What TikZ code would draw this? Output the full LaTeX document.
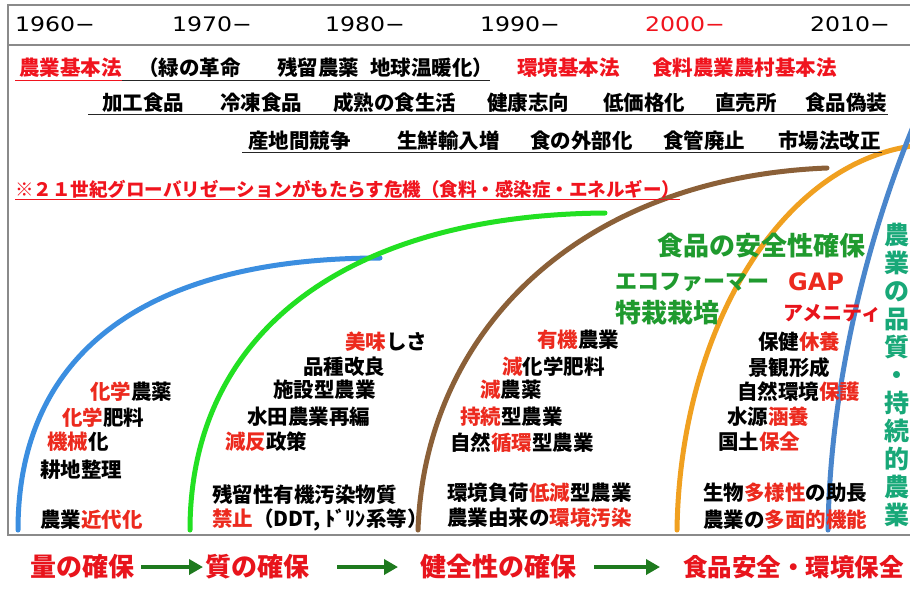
\documentclass[tikz,border=0pt]{standalone}
\usepackage{fontspec}
\newfontfamily\cjk{Noto Sans CJK JP}
\newfontfamily\yrfont[FakeStretch=1.18]{DejaVu Sans}
\newfontfamily\latfont{DejaVu Sans}
\usetikzlibrary{arrows.meta}
\definecolor{tred}{HTML}{EC2A1E}
\definecolor{lawred}{HTML}{F0141E}
\definecolor{bred}{HTML}{E8141C}
\definecolor{lblgreen}{HTML}{1F9A2E}
\definecolor{vteal}{HTML}{18A878}
\definecolor{arrgreen}{HTML}{1E7A1E}
\definecolor{cblue}{HTML}{3B8EE0}
\definecolor{cgreen}{HTML}{22E022}
\definecolor{cbrown}{HTML}{8B6038}
\definecolor{corange}{HTML}{F0A020}
\definecolor{csteel}{HTML}{4A86CC}
\definecolor{framec}{HTML}{8A8A8A}
\newcommand\redt[1]{\textcolor{tred}{#1}}
\tikzset{
  every node/.style={inner sep=0pt, anchor=west},
  yr/.style={font=\yrfont\fontsize{20}{22}\selectfont},
  tx/.style={font=\cjk\bfseries\fontsize{20.5}{24}\selectfont, text=black},
  law/.style={tx, text=lawred},
  warn/.style={font=\cjk\bfseries\fontsize{18.5}{22}\selectfont, text=lawred},
  ul/.style={line width=1pt, draw=black!85},
  ulred/.style={line width=1pt, draw=lawred},
  crv/.style={line width=5pt, line cap=round},
  glbl/.style={font=\cjk\bfseries\fontsize{26}{30}\selectfont, text=lblgreen},
  btm/.style={font=\cjk\bfseries\fontsize{26}{30}\selectfont, text=bred},
  garrow/.style={line width=4.5pt, draw=arrgreen, -{Triangle[length=14pt,width=15pt]}},
}
\begin{document}
\begin{tikzpicture}[x=1pt,y=-1pt]
\useasboundingbox (0,0) rectangle (910,590);
\fill[white] (0,0) rectangle (910,590);
% frame
\draw[framec, line width=1.3pt] (8,5) rectangle (918,535);
\draw[framec, line width=1.3pt] (8,45) -- (918,45);
% years
\node[yr] (y60) at (15,24) {1960−};
\node[yr] (y70) at (172,24) {1970−};
\node[yr] (y80) at (325,24) {1980−};
\node[yr] (y90) at (480,24) {1990−};
\node[yr, text=lawred] (y00) at (645,24) {2000−};
\node[yr] (y10) at (810,24) {2010−};
% curves
\draw[crv, cblue] (18,530) .. controls (18,350) and (150,258) .. (380,258);
\draw[crv, cgreen] (190,530) .. controls (190,330) and (350,215) .. (605,213);
\draw[crv, cbrown] (418,530) .. controls (425,330) and (580,178) .. (827,168);
\draw[crv, corange] (677,530) .. controls (680,330) and (780,165) .. (912,146);
\draw[crv, csteel] (828,530) .. controls (830,380) and (870,230) .. (915,122);
% row 1
\node[law] (r1a) at (19,68) {農業基本法};
\node[tx] (r1b) at (138,68) {（緑の革命};
\node[tx] (r1c) at (277,68) {残留農薬};
\node[tx] (r1d) at (370,68) {地球温暖化）};
\node[law] (r1e) at (517,68) {環境基本法};
\node[law] (r1f) at (652,68) {食料農業農村基本法};
\draw[ulred] (15,80) -- (122,80);
\draw[ul] (122,80) -- (490,80);
% row 2
\node[tx] (r2a) at (102,103) {加工食品};
\node[tx] (r2b) at (220,103) {冷凍食品};
\node[tx] (r2c) at (333,103) {成熟の食生活};
\node[tx] (r2d) at (487,103) {健康志向};
\node[tx] (r2e) at (603,103) {低価格化};
\node[tx] (r2f) at (715,103) {直売所};
\node[tx] (r2g) at (805,103) {食品偽装};
\draw[ul] (88,114) -- (888,114);
% row 3
\node[tx] (r3a) at (248,141) {産地間競争};
\node[tx] (r3b) at (397,141) {生鮮輸入増};
\node[tx] (r3c) at (530,141) {食の外部化};
\node[tx] (r3d) at (663,141) {食管廃止};
\node[tx] (r3e) at (778,141) {市場法改正};
\draw[ul] (242,152) -- (882,152);
% row 4
\node[warn] (r4) at (15,189) {※２１世紀グローバリゼーションがもたらす危機（食料・感染症・エネルギー）};
\draw[ulred] (15,199) -- (r4.east |- 0,199);
% blue region
\node[tx] (a1) at (90,392) {\redt{化学}農薬};
\node[tx] (a2) at (62,418) {\redt{化学}肥料};
\node[tx] (a3) at (47,442) {\redt{機械}化};
\node[tx] (a4) at (40,470) {耕地整理};
\node[tx] (a5) at (40,520) {農業\redt{近代化}};
% green region
\node[tx] (b1) at (345,342) {\redt{美味}しさ};
\node[tx] (b2) at (303,367) {品種改良};
\node[tx] (b3) at (273,390) {施設型農業};
\node[tx] (b4) at (247,417) {水田農業再編};
\node[tx] (b5) at (225,442) {\redt{減反}政策};
\node[tx] (b6) at (212,495) {残留性有機汚染物質};
\node[tx] (b7) at (212,520) {\redt{禁止}（DDT, ﾄﾞﾘﾝ系等）};
% brown region
\node[tx] (c1) at (537,340) {\redt{有機}農業};
\node[tx] (c2) at (502,367) {\redt{減}化学肥料};
\node[tx] (c3) at (480,390) {\redt{減}農薬};
\node[tx] (c4) at (460,417) {\redt{持続}型農業};
\node[tx] (c5) at (450,443) {自然\redt{循環}型農業};
\node[tx] (c6) at (447,493) {環境負荷\redt{低減}型農業};
\node[tx] (c7) at (447,518) {農業由来の\redt{環境汚染}};
% orange region
\node[tx] (d1) at (758,342) {保健\redt{休養}};
\node[tx] (d2) at (748,368) {景観形成};
\node[tx] (d3) at (737,392) {自然環境\redt{保護}};
\node[tx] (d4) at (727,417) {水源\redt{涵養}};
\node[tx] (d5) at (718,442) {国土\redt{保全}};
\node[tx] (d6) at (703,493) {生物\redt{多様性}の助長};
\node[tx] (d7) at (703,520) {農業の\redt{多面的機能}};
% green labels
\node[glbl] (g1) at (657,246) {食品の安全性確保};
\node[glbl, font=\cjk\bfseries\fontsize{22}{26}\selectfont] (g2) at (615,282) {エコファーマー};
\node[glbl] (g3) at (615,313) {特栽栽培};
\node[font=\latfont\bfseries\fontsize{24}{28}\selectfont, text=tred] (gap) at (788,282) {GAP};
\node[font=\cjk\bfseries\fontsize{20}{24}\selectfont, text=bred] (amen) at (783,313) {アメニティ};
% vertical label
\node[anchor=north, align=center, font=\cjk\bfseries\fontsize{25}{28}\selectfont, text=vteal] (vt) at (897,223)
  {農\\業\\の\\品\\質\\・\\持\\続\\的\\農\\業};
% bottom
\node[btm] (s1) at (30,567) {量の確保};
\node[btm] (s2) at (205,567) {質の確保};
\node[btm] (s3) at (420,567) {健全性の確保};
\node[btm, font=\cjk\bfseries\fontsize{24.5}{28}\selectfont] (s4) at (683,567) {食品安全・環境保全};
\draw[garrow, shorten <=7pt, shorten >=2pt] (s1.east) -- (s2.west);
\draw[garrow, shorten <=28pt, shorten >=22pt] (s2.east) -- (s3.west);
\draw[garrow, shorten <=18pt, shorten >=23pt] (s3.east) -- (s4.west);
\end{tikzpicture}
\end{document}
